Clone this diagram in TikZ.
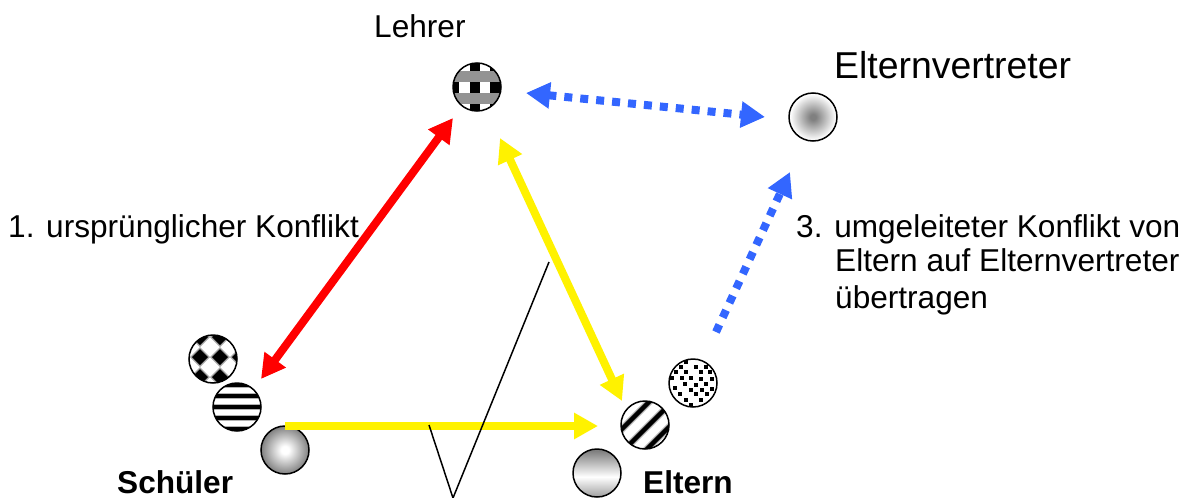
\documentclass[tikz,border=0pt]{standalone}
\usepackage{fontspec}
\setmainfont{Liberation Sans}
\usetikzlibrary{arrows.meta}
\definecolor{arrowblue}{HTML}{3366FF}
\definecolor{midgrey}{HTML}{808080}
\definecolor{lightgrey}{HTML}{A8A8A8}
\pgfdeclareradialshading{whitecore}{\pgfpointorigin}{color(0bp)=(white); color(4bp)=(white); color(25bp)=(midgrey); color(50bp)=(midgrey)}
\pgfdeclareradialshading{greycore}{\pgfpointorigin}{color(0bp)=(midgrey); color(3bp)=(midgrey); color(24bp)=(white); color(50bp)=(white)}
\pgfdeclareverticalshading{barrel}{100bp}{color(0bp)=(lightgrey); color(27bp)=(lightgrey); color(46bp)=(white); color(73bp)=(midgrey); color(100bp)=(midgrey)}
\newcommand{\inball}[1]{\begin{scope}[shift={(path picture bounding box.center)}]#1\end{scope}}
\newcommand{\blk}[4]{\fill[black] (#1,#2) rectangle (#3,#4);}
\tikzset{
  x=1pt,y=-1pt,
  >={Triangle[length=24pt,width=25pt]},
  ball/.style={circle,draw=black,line width=1.5pt,minimum size=48pt,inner sep=0pt,fill=white},
  txt/.style={anchor=base west,inner sep=0pt,font=\fontsize{31.6}{36}\selectfont},
  boldtxt/.style={txt,font=\fontsize{31.6}{36}\selectfont\bfseries},
  bigtxt/.style={txt,font=\fontsize{37.4}{42}\selectfont},
  redarrow/.style={draw=red,line width=8pt,<->},
  yellowarrow/.style={draw=yellow,line width=8pt,->},
  yellowdouble/.style={draw=yellow,line width=8pt,<->},
  bluedouble/.style={draw=arrowblue,line width=8pt,dash pattern=on 8pt off 8pt,<->},
  bluearrow/.style={draw=arrowblue,line width=8pt,dash pattern=on 8pt off 8pt,->},
  thinline/.style={draw=black,line width=1.5pt},
  checker/.style={path picture={\inball{
     \fill[gray!85] (-25,-16) rectangle (25,-5);
     \fill[gray!85] (-25,6) rectangle (25,17);
     \blk{-7}{-25}{3}{-16}
     \blk{13}{-25}{25}{-16}
     \blk{-25}{-25}{-18}{-16}
     \blk{-7}{-5}{3}{6}
     \blk{13}{-5}{25}{6}
     \blk{-25}{-5}{-18}{6}
     \blk{-7}{17}{3}{25}
     \blk{13}{17}{25}{25}
     \blk{-25}{17}{-18}{25}
  }}},
  diamonds/.style={path picture={\inball{
     \foreach \cx/\cy in {-13/-2,7/-2,-13/-22,7/-22,-13/18,7/18,27/-2,-33/-2,27/-22,27/18}{
       \fill[gray!70] (\cx-10,\cy) -- (\cx,\cy-10) -- (\cx+10,\cy) -- (\cx,\cy+10) -- cycle;
       \fill[black] (\cx-8,\cy) -- (\cx,\cy-8) -- (\cx+8,\cy) -- (\cx,\cy+8) -- cycle;
     }
  }}},
  hstripes/.style={path picture={\inball{
     \foreach \d in {-22,-11,0,11,22}{
       \fill[gray!60] (-25,\d-3.4) rectangle (25,\d+3.4);
       \fill[black] (-25,\d-2.2) rectangle (25,\d+2.2);
     }
  }}},
  dstripes/.style={path picture={\inball{
     \foreach \d in {-9.5,2,13}{
       \draw[gray!60,line width=7pt] (\d+30,\d-30) -- (\d-30,\d+30);
       \draw[black,line width=4.4pt] (\d+30,\d-30) -- (\d-30,\d+30);
     }
  }}},
  dotted dots/.style={path picture={\inball{
     \foreach \cx/\cy in {-7/-21,3/-16,-12/-16,13/-16,-17/-11,-7/-11,8/-11,17/-11,-21/-5,-11/-5,-2/-5,8/-4,19/-4,-8/1,3/2,13/1,-18/5,-2/7,9/7,19/6,-13/11,3/11,14/11,-7/17,8/17,-2/22}{
       \fill[black] (\cx-2.1,\cy-2.1) rectangle (\cx+2.1,\cy+2.1);
     }
  }}},
}
\begin{document}
\begin{tikzpicture}
\useasboundingbox (0,0) rectangle (1192,498);
% balls
\node[ball,checker] (lehrer) at (477,87) {};
\node[ball,shading=greycore] (vertreter) at (813,117) {};
\node[ball,diamonds] (s1) at (213,359) {};
\node[ball,hstripes] (s2) at (237,407) {};
\node[ball,shading=whitecore] (s3) at (285,450) {};
\node[ball,dotted dots] (e1) at (693,383) {};
\node[ball,dstripes] (e2) at (645,425) {};
\node[ball,shading=barrel] (e3) at (597,473) {};
% connector ends
\coordinate (redtop) at (453,118);
\coordinate (redbot) at (261,379);
\coordinate (yhstart) at (285,426);
\coordinate (yhend) at (598,426);
\coordinate (ydtop) at (500,138);
\coordinate (ydbot) at (622,401);
\coordinate (bdleft) at (526,93);
\coordinate (bdright) at (765,117);
\coordinate (bustart) at (716,332);
\coordinate (buend) at (790,172);
\coordinate (ta) at (549,262);
\coordinate (tb) at (453,498);
\coordinate (tc) at (429,425);
% connectors
\draw[redarrow] (redtop) -- (redbot);
\draw[yellowarrow] (yhstart) -- (yhend);
\draw[yellowdouble] (ydtop) -- (ydbot);
\draw[bluedouble] (bdleft) -- (bdright);
\draw[bluearrow] (bustart) -- (buend);
\draw[thinline] (ta) -- (tb) -- (tc);
% labels
\node[txt] (tlehrer) at (374,37) {Lehrer};
\node[bigtxt] (tvertreter) at (834,78) {Elternvertreter};
\node[txt] (tkonflikt) at (8,237) {1. ursprünglicher Konflikt};
\node[txt] (tdrei) at (796,237) {3. umgeleiteter Konflikt von};
\node[txt] (tauf) at (835,271) {Eltern auf Elternvertreter};
\node[txt] (tuebertr) at (835,308) {übertragen};
\node[boldtxt] (tschueler) at (117,493) {Schüler};
\node[boldtxt] (teltern) at (643,493) {Eltern};
\end{tikzpicture}
\end{document}
